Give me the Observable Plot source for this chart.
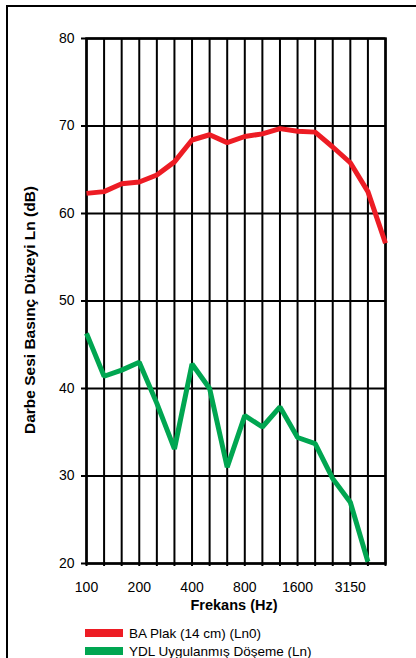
<!DOCTYPE html>
<html><head><meta charset="utf-8">
<script src="https://cdn.jsdelivr.net/npm/d3@7"></script>
<script src="https://cdn.jsdelivr.net/npm/@observablehq/plot@0.6"></script>
<style>
body{margin:0;background:#fff;font-family:"Liberation Sans",Arial,sans-serif;overflow:hidden;}
#frame{position:absolute;left:6px;top:5px;width:430px;height:700px;border-left:2px solid #000;border-top:2px solid #000;}
#chart{position:absolute;left:0;top:0;}
#legend{position:absolute;left:85px;top:624px;font-size:13.5px;color:#000;}
.row{display:flex;align-items:center;height:18px;}
.sw{width:38px;height:8px;margin-right:6px;}
</style></head><body>
<div id="frame"></div>
<div id="chart"></div>
<div id="legend"></div>
<script>
const freqs=[100,125,160,200,250,315,400,500,630,800,1000,1250,1600,2000,2500,3150,4000,5000];
const baPlak=[62.3,62.5,63.4,63.6,64.4,65.9,68.4,69.0,68.1,68.8,69.1,69.7,69.4,69.3,67.6,65.8,62.5,56.6];
const ydl=[46.3,41.4,42.1,43.0,38.3,33.1,42.8,40.0,31.0,36.9,35.6,37.9,34.4,33.7,29.7,27.0,20.2];
const xTickLabels=[100,200,400,800,1600,3150];
const yTicks=[20,30,40,50,60,70,80];
const seriesNames=["BA Plak (14 cm) (Ln0)","YDL Uygulanmış Döşeme (Ln)"];
const seriesColors=["#ED1C24","#00A651"];
const xTitle="Frekans (Hz)";
const yTitle="Darbe Sesi Basınç Düzeyi Ln (dB)";

// x position = band index (one-third octave bands drawn equally spaced)
const idx=d3.range(freqs.length);
const data=[
  ...baPlak.map((v,i)=>({i,f:freqs[i],v,s:seriesNames[0]})),
  ...ydl.map((v,i)=>({i,f:freqs[i],v,s:seriesNames[1]}))
];

const chart=Plot.plot({
  width:416,height:620,marginTop:38,marginLeft:86,marginRight:31,marginBottom:57,
  style:{fontFamily:"'Liberation Sans', Arial, sans-serif",fontSize:"14px",background:"transparent",color:"#000",overflow:"visible"},
  x:{type:"linear",domain:[0,freqs.length-1]},
  y:{domain:[20,80]},
  color:{domain:seriesNames,range:seriesColors},
  marks:[
    Plot.gridX(idx,{stroke:"#000",strokeOpacity:1,strokeWidth:2}),
    Plot.gridY(yTicks,{stroke:"#000",strokeOpacity:1,strokeWidth:2}),
    Plot.axisY(yTicks,{tickSize:5,tickPadding:7,strokeWidth:2,label:null,fontSize:14}),
    Plot.axisX(idx,{tickSize:3,tickPadding:16,strokeWidth:2,tickFormat:i=>xTickLabels.includes(freqs[i])?String(freqs[i]):"",label:null,fontSize:14}),
    Plot.frame({stroke:"#000",strokeWidth:2.5}),
    Plot.line(data,{x:"i",y:"v",z:"s",stroke:"s",strokeWidth:5,strokeLinejoin:"miter",strokeLinecap:"butt"}),
    Plot.text([xTitle],{frameAnchor:"bottom",dy:46,dx:-2,text:d=>d,fontWeight:"bold",fontSize:14.5}),
    Plot.text([yTitle],{frameAnchor:"left",textAnchor:"middle",dx:-56,dy:9,rotate:-90,text:d=>d,fontWeight:"bold",fontSize:15.5})
  ]
});
document.getElementById("chart").appendChild(chart);

const legend=document.getElementById("legend");
seriesNames.forEach((n,i)=>{
  const row=document.createElement("div");row.className="row";
  const sw=document.createElement("div");sw.className="sw";sw.style.background=seriesColors[i];
  const t=document.createElement("span");t.textContent=n;
  row.appendChild(sw);row.appendChild(t);legend.appendChild(row);
});
</script>
</body></html>
